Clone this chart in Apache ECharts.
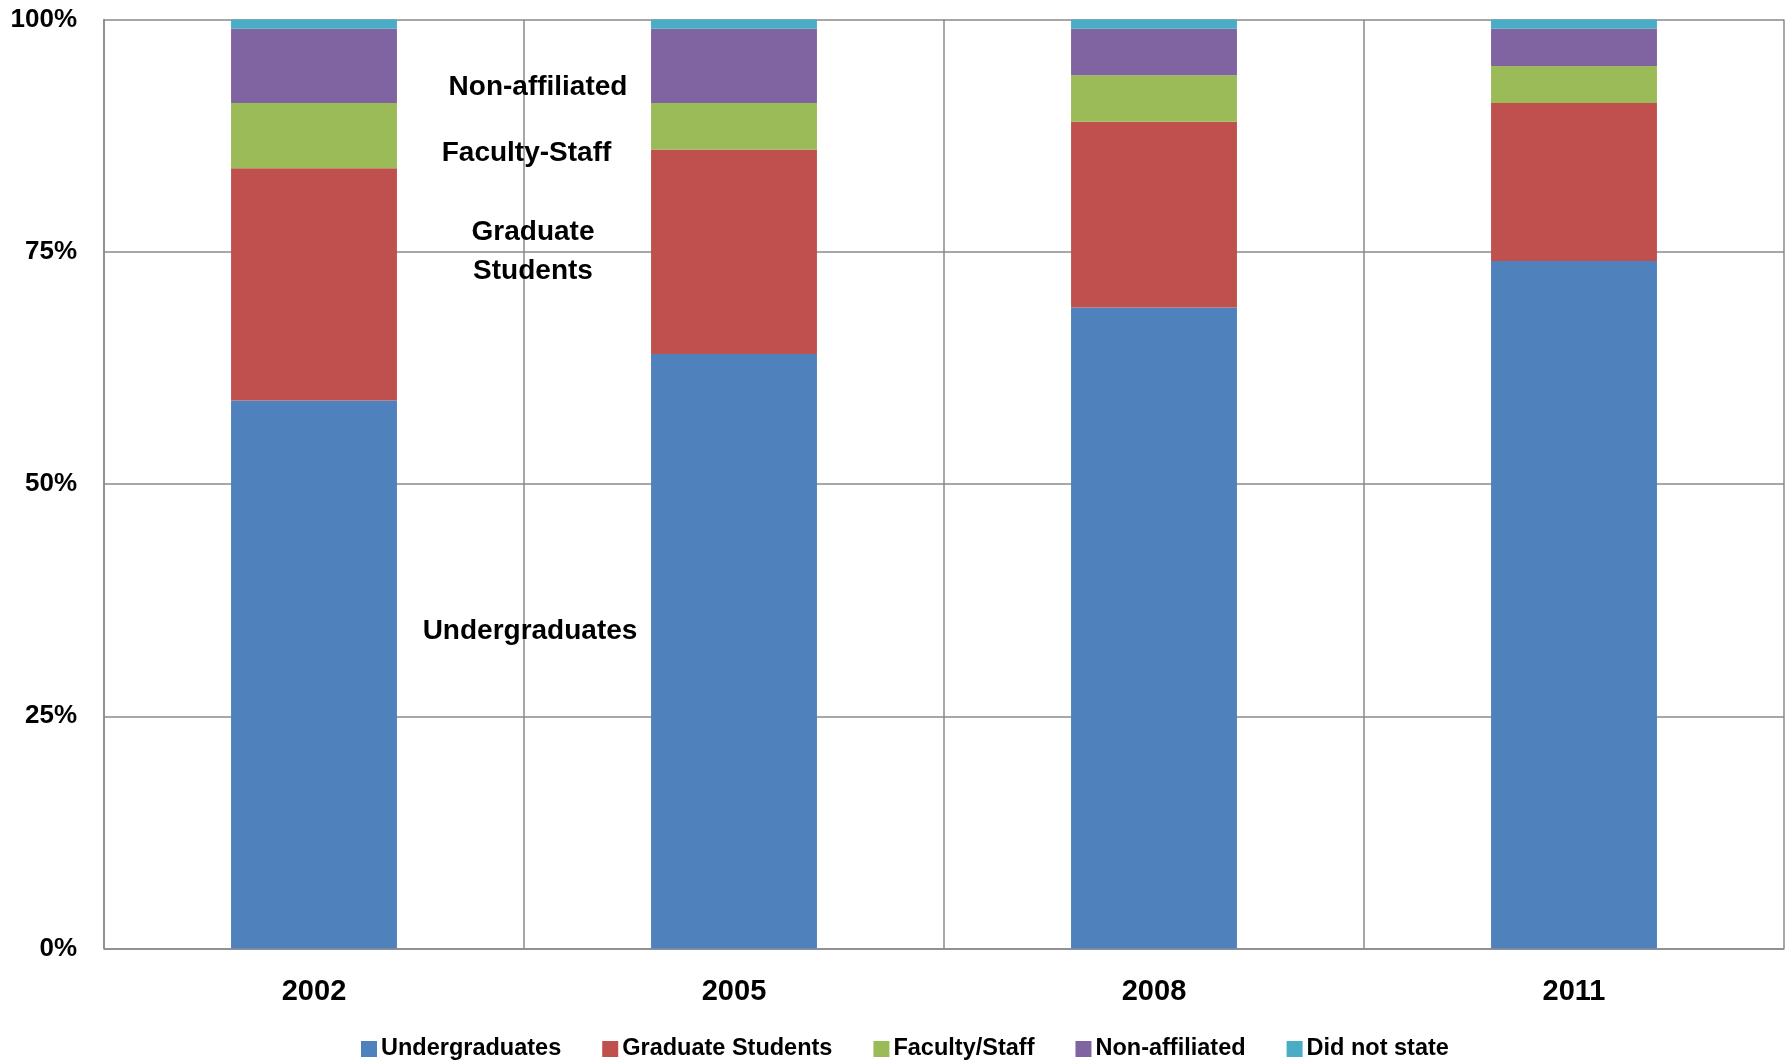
<!DOCTYPE html>
<html>
<head>
<meta charset="utf-8">
<script src="https://cdn.jsdelivr.net/npm/echarts@6/dist/echarts.min.js"></script>
<style>
html,body{margin:0;padding:0;background:#fff;}
#c{width:1791px;height:1061px;}
</style>
</head>
<body>
<div id="c"></div>
<script>
const categories = ['2002', '2005', '2008', '2011'];
const seriesNames = ['Undergraduates', 'Graduate Students', 'Faculty/Staff', 'Non-affiliated', 'Did not state'];
const undergraduates = [59, 64, 69, 74];
const graduateStudents = [25, 22, 20, 17];
const facultyStaff = [7, 5, 5, 4];
const nonAffiliated = [8, 8, 5, 4];
const didNotState = [1, 1, 1, 1];
const yTicks = [0, 25, 50, 75, 100];
const annotationTexts = ['Non-affiliated', 'Faculty-Staff', 'Graduate\nStudents', 'Undergraduates'];
const annotationValues = [92.75, 85.6, 75.0, 34.1];

const colors = ['#4F81BD', '#C0504D', '#9BBB59', '#8064A2', '#4BACC6'];
const seriesData = [undergraduates, graduateStudents, facultyStaff, nonAffiliated, didNotState];
const annotationShift = [7, -4.5, 2, -1];
const FONT = '"Liberation Sans", Arial, sans-serif';
const gridColor = '#8a8a8a';

const chart = echarts.init(document.getElementById('c'), null, {renderer: 'canvas'});
const option = {
  animation: false,
  backgroundColor: '#ffffff',
  color: colors,
  grid: {left: 104, right: 7, top: 19.5, bottom: 112.5, containLabel: false},
  legend: {
    data: seriesNames,
    left: 356,
    top: 1032,
    itemWidth: 16,
    itemHeight: 16,
    itemGap: 41,
    icon: 'rect',
    textStyle: {fontFamily: FONT, fontWeight: 'bold', fontSize: 23.5, color: '#000', padding: [0,0,0,-1]}
  },
  xAxis: {
    type: 'category',
    data: categories,
    axisLine: {show: true, lineStyle: {color: gridColor, width: 1.5}},
    axisTick: {show: false},
    splitLine: {show: true, lineStyle: {color: gridColor, width: 1.5}},
    axisLabel: {fontFamily: FONT, fontWeight: 'bold', fontSize: 29, color: '#000', margin: 29}
  },
  yAxis: {
    type: 'value',
    min: 0,
    max: 100,
    interval: 25,
    axisLine: {show: true, lineStyle: {color: gridColor, width: 1.5}},
    axisTick: {show: false},
    splitLine: {show: true, lineStyle: {color: gridColor, width: 1.5}},
    axisLabel: {
      fontFamily: FONT, fontWeight: 'bold', fontSize: 26, color: '#000', margin: 27,
      padding: [6, 0, 0, 0],
      formatter: function (v) { return yTicks.indexOf(v) >= 0 ? v + '%' : ''; }
    }
  },
  series: seriesNames.map(function (name, i) {
    return {
      name: name,
      type: 'bar',
      stack: 'total',
      barWidth: '39.5%',
      data: seriesData[i],
      itemStyle: {color: colors[i]}
    };
  })
};
chart.setOption(option);

// Annotation texts placed through the chart's own coordinate conversion
const p0 = chart.convertToPixel({gridIndex: 0}, [0, 0]);
const p1 = chart.convertToPixel({gridIndex: 0}, [1, 0]);
const boundaryX = (p0[0] + p1[0]) / 2 + 7;
const graphics = annotationTexts.map(function (t, i) {
  const py = chart.convertToPixel({gridIndex: 0}, [0, annotationValues[i]])[1];
  return {
    type: 'text',
    x: boundaryX + annotationShift[i],
    y: py,
    style: {
      text: t,
      fontFamily: FONT,
      fontWeight: 'bold',
      fontSize: 28,
      fill: '#000',
      align: 'center',
      verticalAlign: 'middle',
      lineHeight: 39
    },
    z: 10
  };
});
chart.setOption({graphic: graphics});
</script>
</body>
</html>
